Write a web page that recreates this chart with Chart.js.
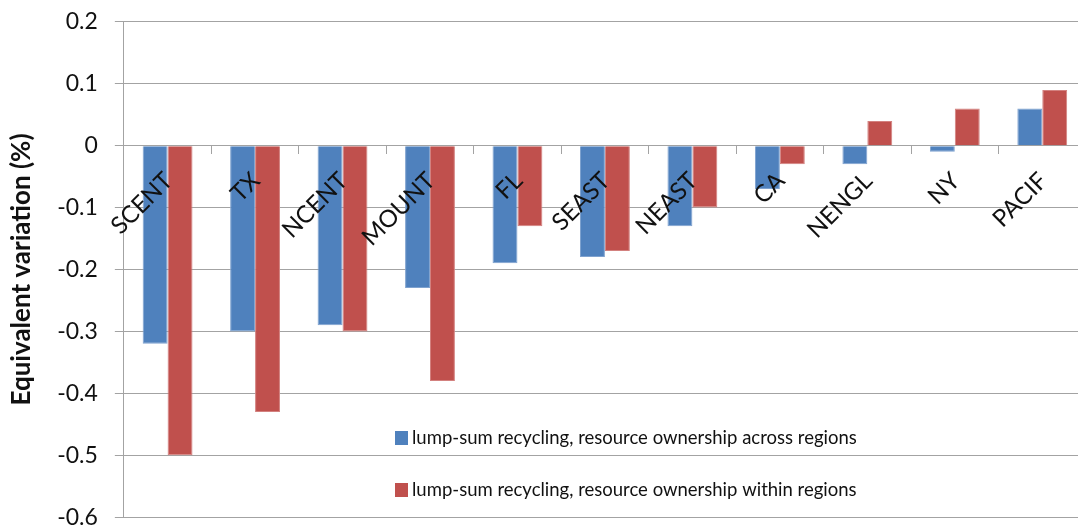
<!DOCTYPE html>
<html>
<head>
<meta charset="utf-8">
<script src="https://cdn.jsdelivr.net/npm/chart.js@4.4.0/dist/chart.umd.min.js"></script>
<style>
  html, body { margin: 0; padding: 0; background: #fff; overflow: hidden; }
  #wrap { width: 1088px; height: 557px; margin-top: -9px; }
</style>
</head>
<body>
<div id="wrap"><canvas id="evChart" width="1088" height="557"></canvas></div>
<script>
// data
const regions = ['SCENT', 'TX', 'NCENT', 'MOUNT', 'FL', 'SEAST', 'NEAST', 'CA', 'NENGL', 'NY', 'PACIF'];
const acrossRegions = [-0.32, -0.30, -0.29, -0.23, -0.19, -0.18, -0.13, -0.07, -0.03, -0.01, 0.06];
const withinRegions = [-0.50, -0.43, -0.30, -0.38, -0.13, -0.17, -0.10, -0.03, 0.04, 0.06, 0.09];
const seriesNames = [
  'lump-sum recycling, resource ownership across regions',
  'lump-sum recycling, resource ownership within regions'
];
const yTickValues = [-0.6, -0.5, -0.4, -0.3, -0.2, -0.1, 0, 0.1, 0.2];

const gridColor = '#a3a3a3';
const fontFamily = 'Lato, "Noto Sans", sans-serif';

// legend sits inside the plot, lower right, no box
const insideLegend = {
  id: 'insideLegend',
  afterDraw(chart) {
    const ctx = chart.ctx;
    ctx.save();
    ctx.font = '18.5px ' + fontFamily;
    ctx.textBaseline = 'middle';
    ctx.textAlign = 'left';
    chart.data.datasets.forEach((ds, i) => {
      const y = 447 + i * 52;
      ctx.fillStyle = ds.backgroundColor;
      ctx.fillRect(395, y - 7, 13, 14);
      ctx.fillStyle = '#111';
      ctx.fillText(ds.label, 412, y);
    });
    ctx.restore();
  }
};

const ctx = document.getElementById('evChart').getContext('2d');
new Chart(ctx, {
  type: 'bar',
  data: {
    labels: regions,
    datasets: [{
      label: seriesNames[0],
      data: acrossRegions,
      backgroundColor: '#4F81BD',
      borderColor: '#7fa2cf',
      borderWidth: 1
    }, {
      label: seriesNames[1],
      data: withinRegions,
      backgroundColor: '#C0504D',
      borderColor: '#d3817f',
      borderWidth: 1
    }]
  },
  options: {
    responsive: false,
    animation: false,
    layout: { padding: { top: 4, right: 2, left: 0, bottom: 0 } },
    categoryPercentage: 0.57,
    barPercentage: 1.0,
    plugins: {
      legend: { display: false },
      tooltip: { enabled: false }
    },
    scales: {
      x: {
        position: { y: 0 },
        grid: { drawOnChartArea: false, drawTicks: true, tickLength: 8, color: gridColor, offset: true },
        border: { display: true, color: gridColor },
        ticks: {
          z: 1,
          autoSkip: false,
          minRotation: 45,
          maxRotation: 45,
          padding: 13,
          labelOffset: 1,
          color: '#111',
          font: { size: 24, family: fontFamily }
        }
      },
      y: {
        min: -0.6,
        max: 0.2,
        afterBuildTicks: (scale) => { scale.ticks = yTickValues.map(v => ({ value: v })); },
        grid: { color: gridColor, tickLength: 9 },
        border: { display: true, color: gridColor },
        ticks: {
          padding: 17,
          color: '#111',
          font: { size: 23, family: fontFamily },
          callback: (v) => (Math.abs(v) < 1e-9 ? '0' : v.toFixed(1))
        },
        title: {
          display: true,
          text: 'Equivalent variation (%)',
          color: '#111',
          font: { size: 26, weight: 'bold', family: fontFamily },
          padding: { top: 6, bottom: 3 }
        }
      }
    }
  },
  plugins: [insideLegend]
});
</script>
</body>
</html>
